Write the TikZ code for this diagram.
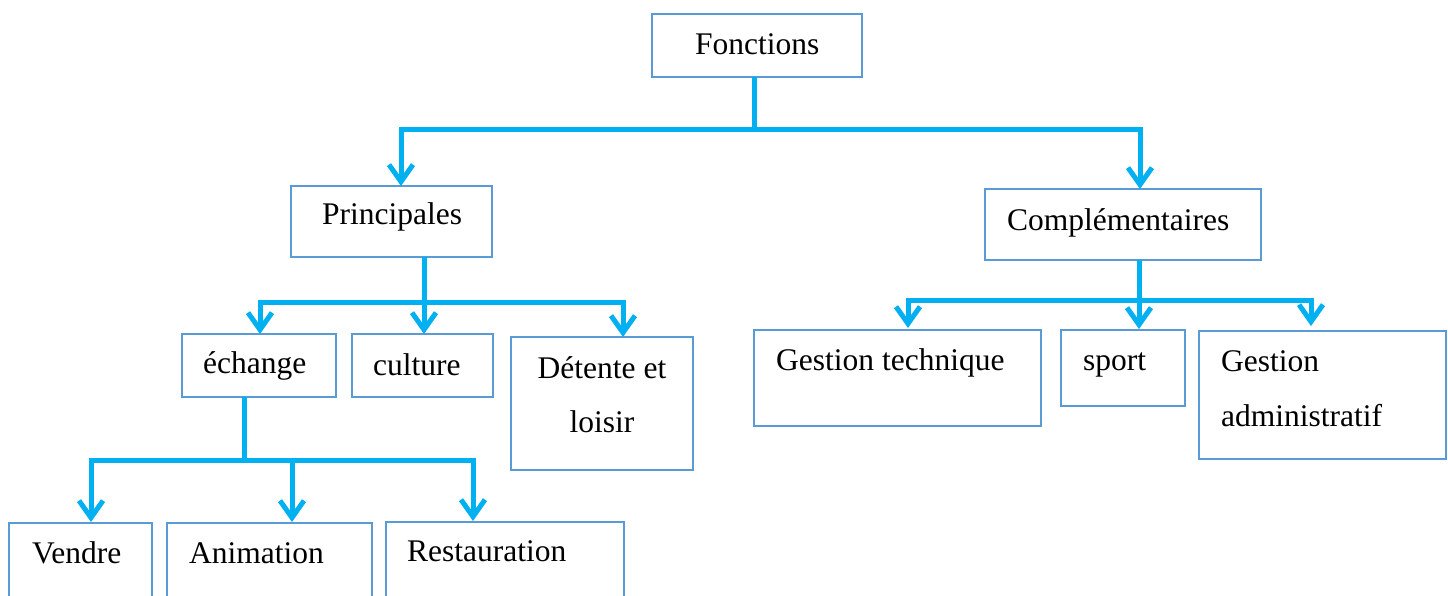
\documentclass[tikz,border=0pt]{standalone}
\usepackage{fontspec}
\setmainfont{Liberation Serif}
\usetikzlibrary{arrows.meta}
\definecolor{lnc}{HTML}{00B0F0}
\definecolor{bxc}{HTML}{5B9BD5}
\begin{document}
\begin{tikzpicture}[x=1pt,y=-1pt,
  bx/.style={draw=bxc, line width=2.5pt, fill=white, anchor=north west, inner sep=0pt, outer sep=0pt},
  tx/.style={anchor=base west, inner sep=0pt, font=\fontsize{31.5}{38}\selectfont},
  txc/.style={tx, anchor=base},
  ln/.style={draw=lnc, line width=5pt},
  arr/.style={ln, -{Straight Barb[length=17pt,width=24pt]}}]
\useasboundingbox (0,0) rectangle (1448,596);
\clip (0,0) rectangle (1448,596);
% boxes
\node[bx, minimum width=210pt, minimum height=63pt] (fon) at (652,14) {};
\node[bx, minimum width=201pt, minimum height=71pt] (pri) at (291,186) {};
\node[bx, minimum width=276pt, minimum height=71pt] (com) at (985,189) {};
\node[bx, minimum width=154pt, minimum height=63pt] (ech) at (182,334) {};
\node[bx, minimum width=141pt, minimum height=63pt] (cul) at (352,334) {};
\node[bx, minimum width=182pt, minimum height=133pt] (det) at (511,337) {};
\node[bx, minimum width=287pt, minimum height=96pt] (gte) at (754,330) {};
\node[bx, minimum width=124pt, minimum height=76pt] (spo) at (1061,330) {};
\node[bx, minimum width=247pt, minimum height=128pt] (gad) at (1199,331) {};
\node[bx, minimum width=143pt, minimum height=100pt] (ven) at (9,523) {};
\node[bx, minimum width=205pt, minimum height=100pt] (ani) at (167,523) {};
\node[bx, minimum width=238pt, minimum height=100pt] (res) at (386,522) {};
% texts
\node[tx] (fon-t) at (695,55) {Fonctions};
\node[tx] (pri-t) at (322,225) {Principales};
\node[tx] (com-t) at (1007,230) {Complémentaires};
\node[tx] (ech-t) at (203,373) {échange};
\node[tx] (cul-t) at (373,375) {culture};
\node[txc] (det-t1) at (602,378) {Détente et};
\node[txc] (det-t2) at (602,432) {loisir};
\node[tx] (gte-t) at (776,370) {Gestion technique};
\node[tx] (spo-t) at (1083,370) {sport};
\node[tx] (gad-t1) at (1221,371) {Gestion};
\node[tx] (gad-t2) at (1221,426) {administratif};
\node[tx] (ven-t) at (32,563) {Vendre};
\node[tx] (ani-t) at (189,563) {Animation};
\node[tx] (res-t) at (407,561) {Restauration};
% connector coordinates
\coordinate (t0) at (754,130);
\coordinate (pri-in) at (401,186);
\coordinate (com-in) at (1140,189);
\coordinate (p0) at (424,302);
\coordinate (ech-in) at (260,334);
\coordinate (cul-in) at (424,334);
\coordinate (det-in) at (623,337);
\coordinate (c0) at (1139,300);
\coordinate (gte-in) at (908,328);
\coordinate (spo-in) at (1139,329);
\coordinate (gad-in) at (1311,326);
\coordinate (e0) at (244,460);
\coordinate (ven-in) at (91,522);
\coordinate (ani-in) at (292,522);
\coordinate (res-in) at (473,521);
% connectors
\draw[ln] (fon.south -| t0) -- (t0);
\draw[arr] (t0) -| (pri-in);
\draw[arr] (t0) -| (com-in);
\draw[ln] (pri.south -| p0) -- (p0);
\draw[arr] (p0) -| (ech-in);
\draw[arr] (p0) -- (cul-in);
\draw[arr] (p0) -| (det-in);
\draw[ln] (com.south -| c0) -- (c0);
\draw[arr] (c0) -| (gte-in);
\draw[arr] (c0) -- (spo-in);
\draw[arr] (c0) -| (gad-in);
\draw[ln] (ech.south -| e0) -- (e0);
\draw[arr] (e0) -| (ven-in);
\draw[arr] (e0) -| (ani-in);
\draw[arr] (e0) -| (res-in);
\end{tikzpicture}
\end{document}
